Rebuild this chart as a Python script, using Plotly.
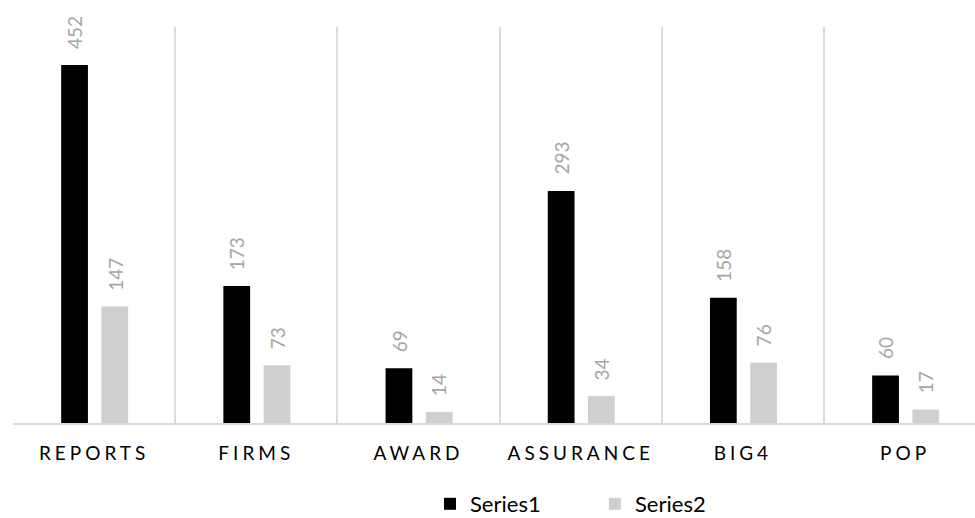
import plotly.graph_objects as go

categories = ["REPORTS", "FIRMS", "AWARD", "ASSURANCE", "BIG4", "POP"]
series1 = [452, 173, 69, 293, 158, 60]
series2 = [147, 73, 14, 34, 76, 17]
series_names = ["Series1", "Series2"]
colors = ["#000000", "#cfcfcf"]

FONT = "Lato, 'Open Sans', sans-serif"
BAR_W = 0.165
OFFSETS = [-0.203, 0.045]

fig = go.Figure()
for name, vals, col, off in zip(series_names, [series1, series2], colors, OFFSETS):
    fig.add_trace(go.Bar(
        x=categories, y=vals, name=name,
        marker=dict(color=col, line=dict(width=0)),
        width=BAR_W, offset=off,
    ))

annotations = []
for vals, off in zip([series1, series2], OFFSETS):
    for i, v in enumerate(vals):
        annotations.append(dict(
            x=i + off + BAR_W / 2, y=v, xref="x", yref="y",
            text=str(v), showarrow=False, textangle=-90,
            xanchor="center", yanchor="bottom", yshift=14,
            font=dict(family=FONT, size=19, color="#a6a6a6"),
        ))

ticktext = ['<span style="letter-spacing:4px">%s</span>' % c for c in categories]

fig.update_layout(
    width=975, height=518,
    margin=dict(l=13, r=0, t=27, b=95),
    paper_bgcolor="white", plot_bgcolor="white",
    barmode="group",
    showlegend=True,
    legend=dict(
        orientation="h", xref="container", yref="container",
        x=430 / 975, xanchor="left", y=1 - 504 / 518, yanchor="middle",
        font=dict(family=FONT, size=22, color="#000000"),
        entrywidth=120, entrywidthmode="pixels",
        itemwidth=30, itemclick=False,
    ),
    annotations=annotations,
    xaxis=dict(
        type="category", range=[-0.5, 5.431],
        tickson="boundaries", showgrid=True, gridcolor="#dcdcdc", gridwidth=1.5,
        showline=True, linecolor="#d9d9d9", linewidth=2,
        ticks="", tickmode="array", tickvals=categories, ticktext=ticktext,
        tickfont=dict(family=FONT, size=19, color="#000000"),
        ticklabelstandoff=12,
        zeroline=False,
    ),
    yaxis=dict(
        range=[0, 500], showgrid=False, zeroline=False,
        showticklabels=False, ticks="", showline=False,
    ),
)

fig.write_html("out.html")
